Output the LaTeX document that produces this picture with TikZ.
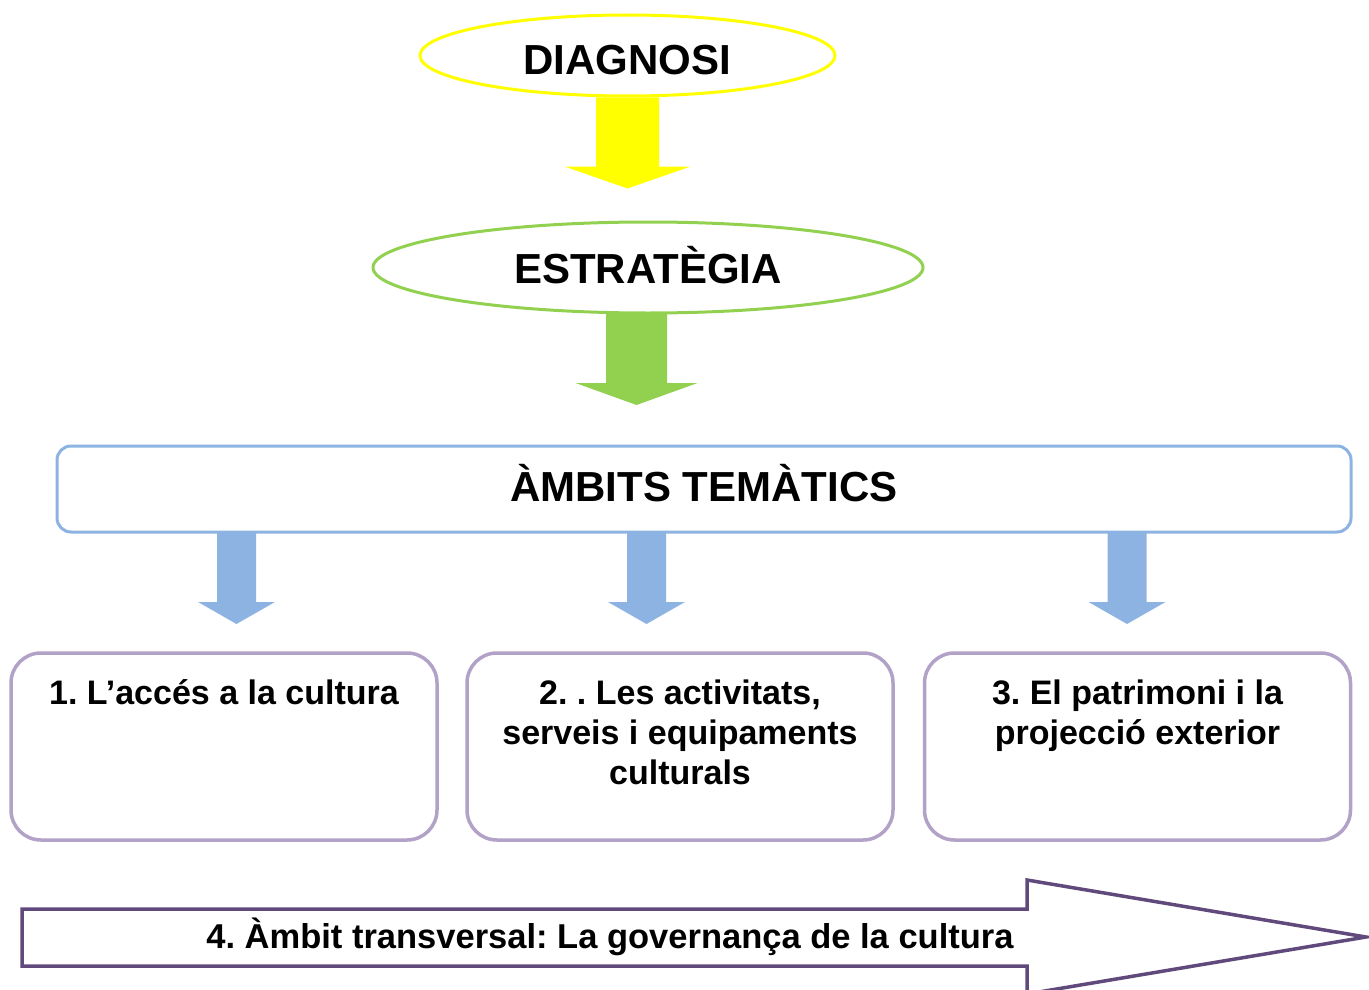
\documentclass[tikz,border=0pt]{standalone}
\usepackage{fontspec}
\setmainfont{Liberation Sans}
\usetikzlibrary{shapes.geometric,calc}
\frenchspacing
\definecolor{diagyellow}{HTML}{FFFF00}
\definecolor{stratgreen}{HTML}{92D050}
\definecolor{ambblue}{HTML}{8DB3E2}
\definecolor{boxpurple}{HTML}{B3A2C7}
\definecolor{govpurple}{HTML}{604A7B}
% #1 colour, #2 start coordinate, #3 shaft length, #4 shaft half width, #5 head half width, #6 head length
\newcommand\bigdownarrow[6]{%
  \fill[#1] ($(#2)+({-#4},0)$) -- ++(0,#3) -- ++({#4-#5},0) -- ++(#5,#6)
    -- ++(#5,-#6) -- ++({#4-#5},0) -- ++(0,-#3) -- cycle;}
\begin{document}
\frenchspacing
\begin{tikzpicture}[x=1pt,y=-1pt,
  oval/.style={ellipse, draw, line width=3pt, fill=white, inner sep=0pt},
  bigtitle/.style={font=\fontsize{42}{48}\selectfont\bfseries, inner sep=0pt, anchor=base},
  ambbox/.style={draw=ambblue, line width=3pt, rounded corners=14pt, fill=white,
    minimum width=1294pt, minimum height=86pt, inner sep=0pt},
  itembox/.style={draw=boxpurple, line width=3.5pt, rounded corners=30pt, fill=white,
    minimum width=426pt, minimum height=187pt, inner sep=0pt},
  itemtext/.style={font=\fontsize{34}{40}\selectfont\bfseries, align=center, inner sep=0pt, anchor=north},
  govtext/.style={font=\fontsize{34.5}{40}\selectfont\bfseries, inner sep=0pt, anchor=base}]
\useasboundingbox (0,0) rectangle (1369,990);

% ovals
\node[oval, draw=diagyellow, minimum width=415pt, minimum height=81pt] (diag) at (627.5,55.5) {};
\node[bigtitle] (diagt) at (627.5,75) {DIAGNOSI};
\node[oval, draw=stratgreen, minimum width=550pt, minimum height=91pt] (strat) at (648,267.5) {};
\node[bigtitle] (stratt) at (648,283) {ESTRATÈGIA};

% thematic box
\node[ambbox] (amb) at (704,489) {};
\node[bigtitle] (ambt) at (704,501.5) {ÀMBITS TEMÀTICS};

% item boxes
\node[itembox] (box1) at (224,746.5) {};
\node[itembox] (box2) at (680,746.5) {};
\node[itembox] (box3) at (1137.5,746.5) {};
\node[itemtext] (t1) at (224,670.5) {\rule{0pt}{34pt}1. L’accés a la cultura};
\node[itemtext] (t2) at (680,670.5) {\rule{0pt}{34pt}2. . Les activitats,\\serveis i equipaments\\culturals};
\node[itemtext] (t3) at (1137.5,670.5) {\rule{0pt}{34pt}3. El patrimoni i la\\projecció exterior};

% block arrows
\bigdownarrow{diagyellow}{diag.south}{69}{31.5}{63}{22}
\coordinate (gtop) at (636.5,313);
\bigdownarrow{stratgreen}{gtop}{70}{30.5}{61}{22}
\coordinate (b1top) at (236.5,532);
\coordinate (b2top) at (646.5,532);
\coordinate (b3top) at (1127,532);
\bigdownarrow{ambblue}{b1top}{70}{19.5}{38.5}{22}
\bigdownarrow{ambblue}{b2top}{70}{19.5}{38.5}{22}
\bigdownarrow{ambblue}{b3top}{70}{19.5}{38.5}{22}

% transversal arrow
\draw[govpurple, line width=3.5pt, line join=miter]
  (22,909) -- (1027,909) -- (1027,880) -- (1366,937) -- (1027,994) -- (1027,966) -- (22,966) -- cycle;
\node[govtext] (gov) at (610,948) {4. Àmbit transversal: La governança de la cultura};
\end{tikzpicture}
\end{document}
